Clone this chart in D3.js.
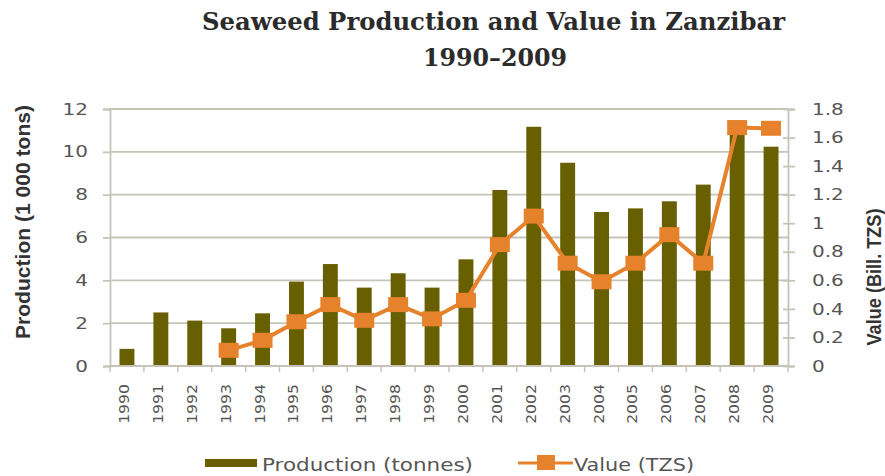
<!DOCTYPE html>
<html>
<head>
<meta charset="utf-8">
<script src="https://d3js.org/d3.v7.min.js"></script>
<style>
  body { margin: 0; background: #fff; }
  svg { display: block; }
</style>
</head>
<body>
<script>
// Chart data
var years = ["1990","1991","1992","1993","1994","1995","1996","1997","1998","1999",
             "2000","2001","2002","2003","2004","2005","2006","2007","2008","2009"];
var production = [0.8, 2.5, 2.12, 1.76, 2.46, 3.94, 4.76, 3.66, 4.33, 3.66,
                  4.98, 8.22, 11.17, 9.49, 7.19, 7.36, 7.69, 8.47, 11.1, 10.24];
// value starts in 1993
var value = [null, null, null, 0.11, 0.18, 0.31, 0.43, 0.32, 0.43, 0.33,
             0.46, 0.85, 1.05, 0.72, 0.59, 0.72, 0.92, 0.72, 1.67, 1.665];
var leftTicks = [0, 2, 4, 6, 8, 10, 12];
var rightTicks = [0, 0.2, 0.4, 0.6, 0.8, 1, 1.2, 1.4, 1.6, 1.8];

var svgWidth = 885, svgHeight = 476;
var margin = { top: 109, right: 97, bottom: 110, left: 110 };
var width = svgWidth - margin.left - margin.right;
var height = svgHeight - margin.top - margin.bottom;

var olive = "#675f00", orange = "#e5822b", grid = "#c6c4b9", textCol = "#555";
var tickFont = "'DejaVu Sans', Verdana, sans-serif";
var stretch = 1.25; // the picture is a bit wide, text too

var svg = d3.select("body").append("svg")
  .attr("width", svgWidth)
  .attr("height", svgHeight);

// title
svg.append("text")
  .attr("x", 202).attr("y", 30)
  .attr("textLength", 583).attr("lengthAdjust", "spacingAndGlyphs")
  .style("font-family", "'DejaVu Serif', serif")
  .style("font-weight", "bold")
  .style("font-size", "23.5px")
  .style("fill", "#2b2b2b")
  .text("Seaweed Production and Value in Zanzibar");
svg.append("text")
  .attr("x", 423).attr("y", 66)
  .attr("textLength", 144).attr("lengthAdjust", "spacingAndGlyphs")
  .style("font-family", "'DejaVu Serif', serif")
  .style("font-weight", "bold")
  .style("font-size", "23.5px")
  .style("fill", "#2b2b2b")
  .text("1990\u20132009");

var chartGroup = svg.append("g")
  .attr("transform", `translate(${margin.left}, ${margin.top})`);

// scales
var x = d3.scaleBand().domain(years).range([0, width]).paddingInner(0.56).paddingOuter(0.28);
var yLeft = d3.scaleLinear().domain([0, 12]).range([height, 0]);
var yRight = d3.scaleLinear().domain([0, 1.8]).range([height, 0]);

// gridlines
chartGroup.append("g")
  .selectAll("line")
  .data(leftTicks.filter(d => d > 0))
  .enter().append("line")
  .attr("x1", 0).attr("x2", width)
  .attr("y1", d => yLeft(d)).attr("y2", d => yLeft(d))
  .attr("stroke", grid).attr("stroke-width", 1.8);

// bars
chartGroup.append("g")
  .selectAll("rect")
  .data(production)
  .enter().append("rect")
  .attr("x", (d, i) => x(years[i]))
  .attr("width", x.bandwidth())
  .attr("y", d => yLeft(d))
  .attr("height", d => height - yLeft(d))
  .attr("fill", olive);

// left axis
var leftAxis = d3.axisLeft(yLeft).tickValues(leftTicks).tickSize(7);
var gl = chartGroup.append("g").call(leftAxis);
gl.select(".domain").attr("stroke", grid).attr("stroke-width", 1.8);
gl.selectAll(".tick line").attr("stroke", grid).attr("stroke-width", 1.8);
gl.selectAll("text")
  .attr("x", -22 / stretch)
  .attr("transform", `scale(${stretch},1)`)
  .style("font-family", tickFont).style("font-size", "16px").style("fill", textCol);

// right axis
var rightAxis = d3.axisRight(yRight).tickValues(rightTicks).tickSize(7)
  .tickFormat(d3.format("~g"));
var gr = chartGroup.append("g").attr("transform", `translate(${width},0)`).call(rightAxis);
gr.select(".domain").attr("stroke", grid).attr("stroke-width", 1.8);
gr.selectAll(".tick line").attr("stroke", grid).attr("stroke-width", 1.8).attr("x1", -5);
gr.selectAll("text")
  .attr("x", 24 / stretch)
  .attr("transform", `scale(${stretch},1)`)
  .style("font-family", tickFont).style("font-size", "16px").style("fill", textCol);

// bottom axis: ticks between categories
var gb = chartGroup.append("g").attr("transform", `translate(0,${height})`);
gb.append("line").attr("x1", 0).attr("x2", width).attr("stroke", grid).attr("stroke-width", 1.8);
gb.selectAll(".sep")
  .data(d3.range(years.length + 1))
  .enter().append("line")
  .attr("x1", i => i * width / years.length)
  .attr("x2", i => i * width / years.length)
  .attr("y1", 0).attr("y2", 6)
  .attr("stroke", grid).attr("stroke-width", 1.5);
gb.selectAll(".yr")
  .data(years)
  .enter().append("text")
  .attr("transform", d => `translate(${x(d) + x.bandwidth() / 2 + 2},18) rotate(-90) scale(1.16,1)`)
  .attr("text-anchor", "end")
  .style("font-family", tickFont)
  .style("font-size", "13.5px")
  .style("fill", textCol)
  .text(d => d);

// value line
var valPts = value.map((v, i) => ({ year: years[i], v: v })).filter(d => d.v !== null);
var line = d3.line()
  .x(d => x(d.year) + x.bandwidth() / 2)
  .y(d => yRight(d.v));
chartGroup.append("path")
  .datum(valPts)
  .attr("d", line)
  .attr("fill", "none")
  .attr("stroke", orange)
  .attr("stroke-width", 4);
chartGroup.append("g")
  .selectAll("rect")
  .data(valPts)
  .enter().append("rect")
  .attr("x", d => x(d.year) + x.bandwidth() / 2 - 10)
  .attr("y", d => yRight(d.v) - 7.5)
  .attr("width", 20).attr("height", 15)
  .attr("fill", orange);

// axis titles
svg.append("text")
  .attr("transform", "translate(30,222) rotate(-90)")
  .attr("text-anchor", "middle")
  .attr("textLength", 234).attr("lengthAdjust", "spacingAndGlyphs")
  .style("font-family", "'Liberation Sans', sans-serif")
  .style("font-size", "21px")
  .style("font-weight", "bold")
  .style("fill", "#333")
  .text("Production (1 000 tons)");
svg.append("text")
  .attr("transform", "translate(881,277) rotate(-90)")
  .attr("text-anchor", "middle")
  .attr("textLength", 137).attr("lengthAdjust", "spacingAndGlyphs")
  .style("font-family", "'Liberation Sans', sans-serif")
  .style("font-size", "21px")
  .style("font-weight", "bold")
  .style("fill", "#333")
  .text("Value (Bill. TZS)");

// legend
var legend = svg.append("g");
legend.append("rect").attr("x", 205).attr("y", 459).attr("width", 52).attr("height", 8).attr("fill", olive);
legend.append("text").attr("x", 262).attr("y", 471)
  .attr("textLength", 211).attr("lengthAdjust", "spacingAndGlyphs")
  .style("font-family", "'DejaVu Sans', sans-serif").style("font-size", "17px").style("fill", textCol)
  .text("Production (tonnes)");
legend.append("line").attr("x1", 518).attr("x2", 573).attr("y1", 463).attr("y2", 463)
  .attr("stroke", orange).attr("stroke-width", 3);
legend.append("rect").attr("x", 537).attr("y", 455).attr("width", 18).attr("height", 15).attr("fill", orange);
legend.append("text").attr("x", 574).attr("y", 471)
  .attr("textLength", 120).attr("lengthAdjust", "spacingAndGlyphs")
  .style("font-family", "'DejaVu Sans', sans-serif").style("font-size", "17px").style("fill", textCol)
  .text("Value (TZS)");
</script>
</body>
</html>
